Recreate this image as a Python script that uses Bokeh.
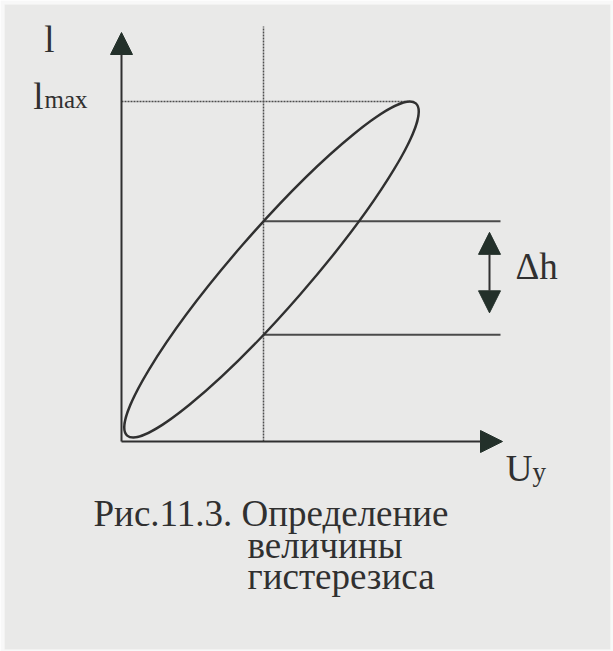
import numpy as np
from bokeh.plotting import figure
from bokeh.models import Range1d, Arrow, NormalHead
from bokeh.core.properties import value
from bokeh.embed import file_html
from bokeh.resources import INLINE

# --- hysteresis loop (data units, origin at the axes corner) ---
loop_center_x = [150.0]
loop_center_y = [172.0]
loop_semi_major = [220.0]
loop_semi_minor = [38.0]
loop_angle_deg = [49.0]

# control signal at which the loop width is measured
u_measure = [142.0]

# axis extents
u_axis_end = [381.0]
l_axis_end = [409.0]
guide_top = [415.0]
level_line_end = [379.0]
delta_arrow_x = [368.0]

# texts
axis_l_label = ["l"]
lmax_main = ["l"]
lmax_sub = ["max"]
u_main = ["U"]
u_sub = ["y"]
delta_label = ["\u0394h"]
caption_lines = ["Рис.11.3. Определение", "величины", "гистерезиса"]

ink = "#303030"
head_ink = "#23302a"
serif = value("Liberation Serif")

a = loop_semi_major[0]
b = loop_semi_minor[0]
th = np.deg2rad(loop_angle_deg[0])
cx, cy = loop_center_x[0], loop_center_y[0]

# top of the loop -> l_max
top_half = np.sqrt((a * np.sin(th)) ** 2 + (b * np.cos(th)) ** 2)
l_max = cy + top_half
l_max_x = cx + (a * a - b * b) * np.sin(th) * np.cos(th) / top_half

# where the loop crosses u = u_measure (upper and lower branch)
dx = u_measure[0] - cx
s, c = np.sin(th), np.cos(th)
qa = s * s / a ** 2 + c * c / b ** 2
qb = 2 * (dx * c * s / a ** 2 - dx * s * c / b ** 2)
qc = (dx * c) ** 2 / a ** 2 + (dx * s) ** 2 / b ** 2 - 1
disc = np.sqrt(qb * qb - 4 * qa * qc)
upper = cy + (-qb + disc) / (2 * qa)
lower = cy + (-qb - disc) / (2 * qa)

W, H = 613, 651
ml, mt, mr, mb = 4, 4, 3, 2
ox, oy = 121, 441  # screen position of the axes corner

p = figure(width=W, height=H, output_backend="svg", toolbar_location=None,
           x_axis_location=None, y_axis_location=None,
           min_border_left=ml, min_border_top=mt, min_border_right=mr, min_border_bottom=mb,
           x_range=Range1d(ml - ox, W - mr - ox), y_range=Range1d(oy - (H - mb), oy - mt))
p.grid.visible = False
p.outline_line_color = None
p.background_fill_color = "#e9e9e8"
p.border_fill_color = "#f8f8f8"

# dotted guides
p.segment(x0=[u_measure[0]], y0=[0], x1=[u_measure[0]], y1=[guide_top[0]],
          line_color="#4d4d4d", line_width=1.5, line_dash="2 1")
p.segment(x0=[0], y0=[l_max], x1=[l_max_x], y1=[l_max],
          line_color="#4d4d4d", line_width=1.5, line_dash="2 1")

# level lines through the loop crossings
p.segment(x0=[u_measure[0]] * 2, y0=[upper, lower], x1=[level_line_end[0]] * 2, y1=[upper, lower],
          line_color="#4a4a4a", line_width=2)

# the loop
p.ellipse(x=loop_center_x, y=loop_center_y, width=[2 * a], height=[2 * b], angle=[th],
          fill_alpha=0, line_color=ink, line_width=2.4)

# axes with arrow heads
p.add_layout(Arrow(x_start=0, y_start=0, x_end=0, y_end=l_axis_end[0], line_color=ink, line_width=2,
                   end=NormalHead(size=22, fill_color=head_ink, line_color=head_ink)))
p.add_layout(Arrow(x_start=0, y_start=0, x_end=u_axis_end[0], y_end=0, line_color=ink, line_width=2,
                   end=NormalHead(size=22, fill_color=head_ink, line_color=head_ink)))

# hysteresis width arrow
p.add_layout(Arrow(x_start=delta_arrow_x[0], y_start=lower + 22, x_end=delta_arrow_x[0], y_end=upper - 11,
                   line_color=ink, line_width=2,
                   start=NormalHead(size=22, fill_color=head_ink, line_color=head_ink),
                   end=NormalHead(size=22, fill_color=head_ink, line_color=head_ink)))

def put(x, y, t, size, align="left"):
    p.text(x=[x], y=[y], text=t, text_font=serif, text_font_size=size,
           text_color=ink, text_align=align, text_baseline="alphabetic")

put(-72, 402, axis_l_label, "37px", "center")
put(-83, 345, lmax_main, "37px", "center")
put(-77, 342, lmax_sub, "25px")
put(397.5, -27, u_main, "37px", "center")
put(411, -30, u_sub, "27px")
put(394, 175, delta_label, "37px")
put(-28, -72, caption_lines[:1], "37px")
put(126, -104, caption_lines[1:2], "37px")
put(126, -135, caption_lines[2:3], "37px")

open("out.html", "w").write(file_html(p, INLINE))
